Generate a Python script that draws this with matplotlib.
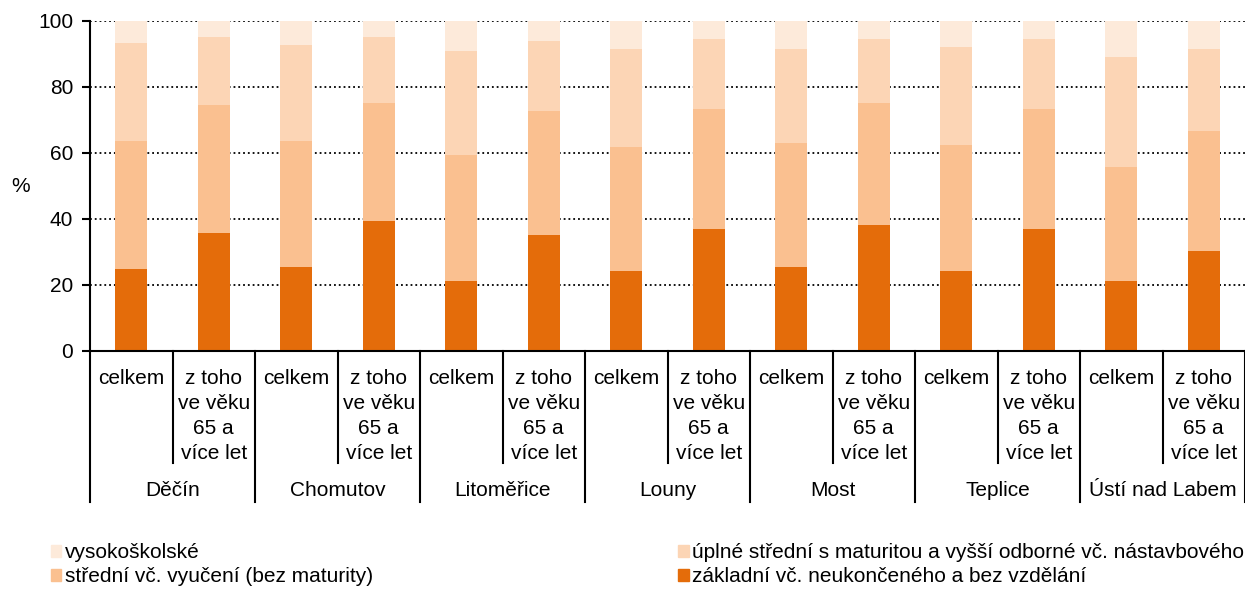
import matplotlib.pyplot as plt
from matplotlib.patches import Patch
import numpy as np

plt.rcParams['font.family'] = ['Liberation Sans', 'DejaVu Sans']
plt.rcParams['font.size'] = 15

okresy = ['Děčín', 'Chomutov', 'Litoměřice', 'Louny', 'Most', 'Teplice', 'Ústí nad Labem']
skupiny = ['celkem', 'z toho\nve věku\n65 a\nvíce let']

zakladni = [25.0, 35.9, 25.5, 39.5, 21.3, 35.2, 24.3, 37.0, 25.5, 38.2, 24.3, 36.9, 21.3, 30.4]
vyuceni = [38.5, 38.7, 38.0, 35.7, 38.2, 37.5, 37.5, 36.4, 37.5, 37.0, 38.1, 36.5, 34.4, 36.3]
maturita = [29.8, 20.6, 29.2, 20.0, 31.5, 21.3, 29.7, 21.1, 28.5, 19.3, 29.7, 21.1, 33.4, 24.8]
vysoko = [6.7, 4.8, 7.3, 4.8, 9.0, 6.0, 8.5, 5.5, 8.5, 5.5, 7.9, 5.5, 10.9, 8.5]

nazvy = ['vysokoškolské',
         'střední vč. vyučení (bez maturity)',
         'úplné střední s maturitou a vyšší odborné vč. nástavbového',
         'základní vč. neukončeného a bez vzdělání']
barvy = {'zakl': '#E46C0A', 'vyuc': '#FAC090', 'mat': '#FCD5B5', 'vs': '#FDEADA'}

fig = plt.figure(figsize=(12.45, 5.92), dpi=100)
ax = fig.add_axes([90 / 1245, 1 - 351 / 592, 1 - 90 / 1245, 330 / 592])

x = np.arange(len(zakladni))
w = 0.39
b1 = np.array(zakladni)
b2 = b1 + np.array(vyuceni)
b3 = b2 + np.array(maturita)
ax.bar(x, zakladni, w, color=barvy['zakl'], zorder=2)
ax.bar(x, vyuceni, w, bottom=b1, color=barvy['vyuc'], zorder=2)
ax.bar(x, maturita, w, bottom=b2, color=barvy['mat'], zorder=2)
ax.bar(x, vysoko, w, bottom=b3, color=barvy['vs'], zorder=2)

ax.set_xlim(-0.5, len(x) - 0.5)
ax.set_ylim(0, 100)
ax.set_yticks(range(0, 101, 20))
ax.yaxis.grid(True, linestyle=':', color='black', linewidth=1.3, zorder=1)
ax.set_axisbelow(True)
for s in ['top', 'right']:
    ax.spines[s].set_visible(False)
ax.spines['left'].set_linewidth(1.5)
ax.spines['bottom'].set_linewidth(1.5)
ax.tick_params(axis='y', direction='out', length=6, width=1.5, pad=6)
ax.set_xticks([])
ax.set_ylabel('%', rotation=0, va='center')
ax.yaxis.set_label_coords(-0.06, 0.5)

# vícestupňová osa x
tr = ax.get_xaxis_transform()
h_in = (463 - 351) / 330
h_out = (502 - 351) / 330
for k in range(len(x) + 1):
    h = h_out if k % 2 == 0 else h_in
    ax.plot([k - 0.5, k - 0.5], [0, -h], color='black', lw=1.5, transform=tr, clip_on=False)
for i in x:
    ax.text(i, -(369 - 351) / 330, skupiny[i % 2], transform=tr, ha='center', va='top',
            linespacing=1.4, multialignment='center')
for j, nazev in enumerate(okresy):
    ax.text(2 * j + 0.5, -(491 - 351) / 330, nazev, transform=tr, ha='center', va='center')

handles = [Patch(color=barvy['vs']), Patch(color=barvy['vyuc']),
           Patch(color=barvy['mat']), Patch(color=barvy['zakl'])]
fig.legend(handles, nazvy, loc='upper left', bbox_to_anchor=(0.041, 0.0, 0.958, 1 - 543 / 592),
           ncol=2, mode='expand', frameon=False, borderpad=0, borderaxespad=0,
           handlelength=0.5, handleheight=0.5, handletextpad=0.15, labelspacing=0.25)

fig.savefig('out.png', dpi=100)
